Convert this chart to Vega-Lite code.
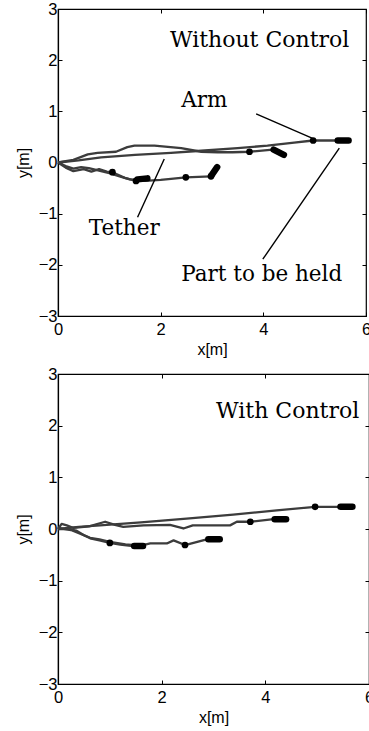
{
  "$schema": "https://vega.github.io/schema/vega-lite/v6.json",
  "background": "white",
  "padding": {"left": 14, "top": 0, "right": 0, "bottom": 0},
  "spacing": 6,
  "config": {
    "view": {"stroke": "black", "strokeWidth": 1.2},
    "axis": {
      "grid": false, "domainColor": "black", "domainWidth": 1.2, "tickColor": "black", "tickSize": -4, "tickWidth": 1,
      "labelColor": "black", "labelFont": "Liberation Sans", "labelFontSize": 16.5, "labelFlush": false, "labelOverlap": false, "labelBound": false,
      "titleColor": "black", "titleFont": "Liberation Sans", "titleFontSize": 16, "titleFontWeight": "normal"
    }
  },
  "datasets": {
    "top_lines": [
      {"id": "t1", "o": 0, "x": 0, "y": 0}, {"id": "t1", "o": 1, "x": 0.15, "y": -0.1}, {"id": "t1", "o": 2, "x": 0.3, "y": -0.17}, {"id": "t1", "o": 3, "x": 0.5, "y": -0.13}, {"id": "t1", "o": 4, "x": 0.65, "y": -0.18}, {"id": "t1", "o": 5, "x": 0.8, "y": -0.13}, {"id": "t1", "o": 6, "x": 0.95, "y": -0.18}, {"id": "t1", "o": 7, "x": 1.06, "y": -0.19}, {"id": "t1", "o": 8, "x": 1.3, "y": -0.3}, {"id": "t1", "o": 9, "x": 1.52, "y": -0.36},
      {"id": "t2", "o": 0, "x": 0, "y": 0}, {"id": "t2", "o": 1, "x": 0.15, "y": -0.07}, {"id": "t2", "o": 2, "x": 0.3, "y": -0.12}, {"id": "t2", "o": 3, "x": 0.45, "y": -0.09}, {"id": "t2", "o": 4, "x": 0.6, "y": -0.11}, {"id": "t2", "o": 5, "x": 0.8, "y": -0.16}, {"id": "t2", "o": 6, "x": 1.0, "y": -0.21}, {"id": "t2", "o": 7, "x": 1.2, "y": -0.27}, {"id": "t2", "o": 8, "x": 1.4, "y": -0.33}, {"id": "t2", "o": 9, "x": 1.7, "y": -0.36}, {"id": "t2", "o": 10, "x": 2.0, "y": -0.34}, {"id": "t2", "o": 11, "x": 2.2, "y": -0.32}, {"id": "t2", "o": 12, "x": 2.49, "y": -0.29}, {"id": "t2", "o": 13, "x": 2.98, "y": -0.27},
      {"id": "t3", "o": 0, "x": 0, "y": 0}, {"id": "t3", "o": 1, "x": 0.3, "y": 0.05}, {"id": "t3", "o": 2, "x": 0.58, "y": 0.16}, {"id": "t3", "o": 3, "x": 0.77, "y": 0.19}, {"id": "t3", "o": 4, "x": 1.13, "y": 0.21}, {"id": "t3", "o": 5, "x": 1.35, "y": 0.3}, {"id": "t3", "o": 6, "x": 1.49, "y": 0.33}, {"id": "t3", "o": 7, "x": 1.88, "y": 0.33}, {"id": "t3", "o": 8, "x": 2.4, "y": 0.28}, {"id": "t3", "o": 9, "x": 2.79, "y": 0.21}, {"id": "t3", "o": 10, "x": 3.11, "y": 0.2}, {"id": "t3", "o": 11, "x": 3.4, "y": 0.2}, {"id": "t3", "o": 12, "x": 3.73, "y": 0.21}, {"id": "t3", "o": 13, "x": 4.18, "y": 0.25},
      {"id": "t4", "o": 0, "x": 0, "y": 0}, {"id": "t4", "o": 1, "x": 0.4, "y": 0.04}, {"id": "t4", "o": 2, "x": 0.84, "y": 0.1}, {"id": "t4", "o": 3, "x": 1.5, "y": 0.15}, {"id": "t4", "o": 4, "x": 2.2, "y": 0.19}, {"id": "t4", "o": 5, "x": 2.79, "y": 0.23}, {"id": "t4", "o": 6, "x": 3.5, "y": 0.28}, {"id": "t4", "o": 7, "x": 4.08, "y": 0.33}, {"id": "t4", "o": 8, "x": 4.6, "y": 0.39}, {"id": "t4", "o": 9, "x": 4.97, "y": 0.43}, {"id": "t4", "o": 10, "x": 5.45, "y": 0.43}
    ],
    "top_parts": [
      {"id": "p1", "o": 0, "x": 1.55, "y": -0.33}, {"id": "p1", "o": 1, "x": 1.74, "y": -0.31},
      {"id": "p2", "o": 0, "x": 2.99, "y": -0.25}, {"id": "p2", "o": 1, "x": 3.1, "y": -0.09},
      {"id": "p3", "o": 0, "x": 4.2, "y": 0.25}, {"id": "p3", "o": 1, "x": 4.4, "y": 0.15},
      {"id": "p4", "o": 0, "x": 5.45, "y": 0.43}, {"id": "p4", "o": 1, "x": 5.66, "y": 0.43}
    ],
    "top_dots": [
      {"x": 1.06, "y": -0.19}, {"x": 1.52, "y": -0.36}, {"x": 2.49, "y": -0.29}, {"x": 2.98, "y": -0.27}, {"x": 3.73, "y": 0.21}, {"x": 4.97, "y": 0.43}
    ],
    "top_leaders": [
      {"id": "arm", "o": 0, "x": 3.86, "y": 0.95}, {"id": "arm", "o": 1, "x": 4.96, "y": 0.47},
      {"id": "tether", "o": 0, "x": 2.07, "y": 0.07}, {"id": "tether", "o": 1, "x": 1.55, "y": -1.07},
      {"id": "part", "o": 0, "x": 5.48, "y": 0.28}, {"id": "part", "o": 1, "x": 3.99, "y": -1.89}
    ],
    "top_texts": [
      {"t": "Without Control", "x": 2.18, "y": 2.25, "s": 22},
      {"t": "Arm", "x": 2.4, "y": 1.08, "s": 21.5},
      {"t": "Tether", "x": 0.6, "y": -1.42, "s": 21.5},
      {"t": "Part to be held", "x": 2.4, "y": -2.31, "s": 21.5}
    ],
    "bot_lines": [
      {"id": "b1", "o": 0, "x": 0, "y": 0}, {"id": "b1", "o": 1, "x": 0.2, "y": 0.0}, {"id": "b1", "o": 2, "x": 0.35, "y": -0.03}, {"id": "b1", "o": 3, "x": 0.5, "y": -0.12}, {"id": "b1", "o": 4, "x": 0.62, "y": -0.18}, {"id": "b1", "o": 5, "x": 0.8, "y": -0.22}, {"id": "b1", "o": 6, "x": 1.0, "y": -0.27}, {"id": "b1", "o": 7, "x": 1.2, "y": -0.3}, {"id": "b1", "o": 8, "x": 1.45, "y": -0.33},
      {"id": "b2", "o": 0, "x": 0, "y": 0.02}, {"id": "b2", "o": 1, "x": 0.25, "y": -0.02}, {"id": "b2", "o": 2, "x": 0.45, "y": -0.1}, {"id": "b2", "o": 3, "x": 0.62, "y": -0.17}, {"id": "b2", "o": 4, "x": 0.8, "y": -0.2}, {"id": "b2", "o": 5, "x": 1.0, "y": -0.25}, {"id": "b2", "o": 6, "x": 1.3, "y": -0.3}, {"id": "b2", "o": 7, "x": 1.6, "y": -0.32}, {"id": "b2", "o": 8, "x": 1.78, "y": -0.28}, {"id": "b2", "o": 9, "x": 2.1, "y": -0.28}, {"id": "b2", "o": 10, "x": 2.23, "y": -0.22}, {"id": "b2", "o": 11, "x": 2.45, "y": -0.31}, {"id": "b2", "o": 12, "x": 2.87, "y": -0.2},
      {"id": "b3", "o": 0, "x": 0, "y": 0}, {"id": "b3", "o": 1, "x": 0.07, "y": 0.1}, {"id": "b3", "o": 2, "x": 0.17, "y": 0.07}, {"id": "b3", "o": 3, "x": 0.3, "y": 0.02}, {"id": "b3", "o": 4, "x": 0.6, "y": 0.05}, {"id": "b3", "o": 5, "x": 0.91, "y": 0.14}, {"id": "b3", "o": 6, "x": 1.1, "y": 0.08}, {"id": "b3", "o": 7, "x": 1.26, "y": 0.04}, {"id": "b3", "o": 8, "x": 1.65, "y": 0.07}, {"id": "b3", "o": 9, "x": 2.16, "y": 0.08}, {"id": "b3", "o": 10, "x": 2.42, "y": 0.01}, {"id": "b3", "o": 11, "x": 2.6, "y": 0.07}, {"id": "b3", "o": 12, "x": 3.32, "y": 0.07}, {"id": "b3", "o": 13, "x": 3.45, "y": 0.14}, {"id": "b3", "o": 14, "x": 3.71, "y": 0.14}, {"id": "b3", "o": 15, "x": 4.16, "y": 0.19},
      {"id": "b4", "o": 0, "x": 0, "y": 0}, {"id": "b4", "o": 1, "x": 0.4, "y": 0.04}, {"id": "b4", "o": 2, "x": 0.81, "y": 0.07}, {"id": "b4", "o": 3, "x": 1.6, "y": 0.13}, {"id": "b4", "o": 4, "x": 2.48, "y": 0.2}, {"id": "b4", "o": 5, "x": 3.38, "y": 0.28}, {"id": "b4", "o": 6, "x": 4.22, "y": 0.36}, {"id": "b4", "o": 7, "x": 4.96, "y": 0.43}, {"id": "b4", "o": 8, "x": 5.43, "y": 0.43}
    ],
    "bot_parts": [
      {"id": "p1", "o": 0, "x": 1.47, "y": -0.33}, {"id": "p1", "o": 1, "x": 1.64, "y": -0.33},
      {"id": "p2", "o": 0, "x": 2.9, "y": -0.2}, {"id": "p2", "o": 1, "x": 3.12, "y": -0.2},
      {"id": "p3", "o": 0, "x": 4.18, "y": 0.19}, {"id": "p3", "o": 1, "x": 4.4, "y": 0.19},
      {"id": "p4", "o": 0, "x": 5.45, "y": 0.43}, {"id": "p4", "o": 1, "x": 5.68, "y": 0.43}
    ],
    "bot_dots": [
      {"x": 1.0, "y": -0.27}, {"x": 2.45, "y": -0.31}, {"x": 3.71, "y": 0.14}, {"x": 4.96, "y": 0.43}
    ],
    "bot_texts": [
      {"t": "With Control", "x": 3.05, "y": 2.15, "s": 22}
    ]
  },
  "vconcat": [
    {
      "width": 308, "height": 307,
      "layer": [
        {
          "data": {"name": "top_lines"},
          "mark": {"type": "line", "color": "#3c3c3c", "strokeWidth": 2.3, "strokeJoin": "round"},
          "encoding": {
            "x": {"field": "x", "type": "quantitative", "scale": {"domain": [0, 6], "nice": false, "zero": false}, "axis": {"orient": "bottom", "values": [0, 2, 4, 6], "title": "x[m]", "labelPadding": 9, "titlePadding": 4}},
            "y": {"field": "y", "type": "quantitative", "scale": {"domain": [-3, 3], "nice": false, "zero": false}, "axis": {"orient": "left", "values": [-3, -2, -1, 0, 1, 2, 3], "title": "y[m]", "labelPadding": 5, "titlePadding": 7}},
            "detail": {"field": "id"},
            "order": {"field": "o", "type": "quantitative"}
          }
        },
        {
          "data": {"name": "top_parts"},
          "mark": {"type": "line", "color": "black", "strokeWidth": 6.5, "strokeCap": "round"},
          "encoding": {
            "x": {"field": "x", "type": "quantitative", "axis": {"orient": "top", "values": [0, 2, 4, 6], "labels": false, "title": null, "domain": false}},
            "y": {"field": "y", "type": "quantitative", "axis": {"orient": "right", "values": [-3, -2, -1, 0, 1, 2, 3], "labels": false, "title": null, "domain": false}},
            "detail": {"field": "id"},
            "order": {"field": "o", "type": "quantitative"}
          }
        },
        {
          "data": {"name": "top_dots"},
          "mark": {"type": "point", "filled": true, "color": "black", "size": 45, "opacity": 1},
          "encoding": {
            "x": {"field": "x", "type": "quantitative", "axis": null},
            "y": {"field": "y", "type": "quantitative", "axis": null}
          }
        },
        {
          "data": {"name": "top_leaders"},
          "mark": {"type": "line", "color": "black", "strokeWidth": 1.4},
          "encoding": {
            "x": {"field": "x", "type": "quantitative", "axis": null},
            "y": {"field": "y", "type": "quantitative", "axis": null},
            "detail": {"field": "id"},
            "order": {"field": "o", "type": "quantitative"}
          }
        },
        {
          "data": {"name": "top_texts"},
          "mark": {"type": "text", "font": "DejaVu Serif", "align": "left", "baseline": "alphabetic", "color": "black"},
          "encoding": {
            "x": {"field": "x", "type": "quantitative", "axis": null},
            "y": {"field": "y", "type": "quantitative", "axis": null},
            "text": {"field": "t"},
            "size": {"field": "s", "type": "quantitative", "scale": null}
          }
        }
      ],
      "resolve": {"axis": {"x": "independent", "y": "independent"}}
    },
    {
      "width": 311, "height": 310,
      "layer": [
        {
          "data": {"name": "bot_lines"},
          "mark": {"type": "line", "color": "#3c3c3c", "strokeWidth": 2.3, "strokeJoin": "round"},
          "encoding": {
            "x": {"field": "x", "type": "quantitative", "scale": {"domain": [0, 6], "nice": false, "zero": false}, "axis": {"orient": "bottom", "values": [0, 2, 4, 6], "title": "x[m]", "labelPadding": 9, "titlePadding": 4}},
            "y": {"field": "y", "type": "quantitative", "scale": {"domain": [-3, 3], "nice": false, "zero": false}, "axis": {"orient": "left", "values": [-3, -2, -1, 0, 1, 2, 3], "title": "y[m]", "labelPadding": 5, "titlePadding": 7}},
            "detail": {"field": "id"},
            "order": {"field": "o", "type": "quantitative"}
          }
        },
        {
          "data": {"name": "bot_parts"},
          "mark": {"type": "line", "color": "black", "strokeWidth": 6.5, "strokeCap": "round"},
          "encoding": {
            "x": {"field": "x", "type": "quantitative", "axis": {"orient": "top", "values": [0, 2, 4, 6], "labels": false, "title": null, "domain": false}},
            "y": {"field": "y", "type": "quantitative", "axis": {"orient": "right", "values": [-3, -2, -1, 0, 1, 2, 3], "labels": false, "title": null, "domain": false}},
            "detail": {"field": "id"},
            "order": {"field": "o", "type": "quantitative"}
          }
        },
        {
          "data": {"name": "bot_dots"},
          "mark": {"type": "point", "filled": true, "color": "black", "size": 45, "opacity": 1},
          "encoding": {
            "x": {"field": "x", "type": "quantitative", "axis": null},
            "y": {"field": "y", "type": "quantitative", "axis": null}
          }
        },
        {
          "data": {"name": "bot_texts"},
          "mark": {"type": "text", "font": "DejaVu Serif", "align": "left", "baseline": "alphabetic", "color": "black"},
          "encoding": {
            "x": {"field": "x", "type": "quantitative", "axis": null},
            "y": {"field": "y", "type": "quantitative", "axis": null},
            "text": {"field": "t"},
            "size": {"field": "s", "type": "quantitative", "scale": null}
          }
        }
      ],
      "resolve": {"axis": {"x": "independent", "y": "independent"}}
    }
  ]
}
